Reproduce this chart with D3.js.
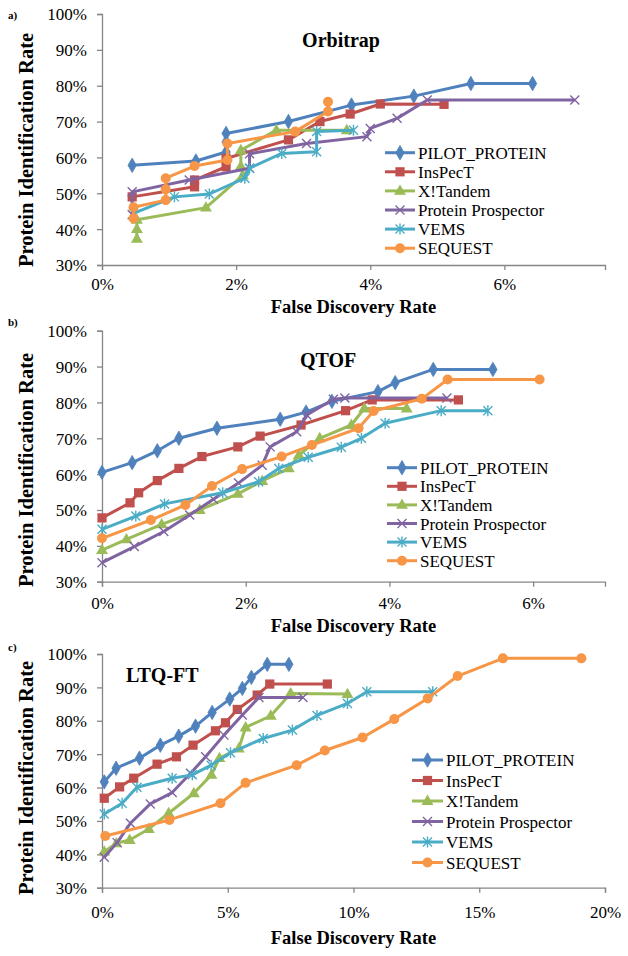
<!DOCTYPE html>
<html><head><meta charset="utf-8">
<script src="https://cdn.jsdelivr.net/npm/d3@7/dist/d3.min.js"></script>
<style>
body{margin:0;background:#fff}
svg{display:block}
svg text{font-family:"Liberation Serif","DejaVu Serif","Noto Serif","Times New Roman",Times,serif !important;}
</style>
</head><body>
<svg id="chart" width="628" height="956"></svg>
<script>
// ---------- categories / styling keys ----------
const seriesNames = ["PILOT_PROTEIN", "InsPecT", "X!Tandem", "Protein Prospector", "VEMS", "SEQUEST"];
const seriesColors = ["#4F81BD", "#C0504D", "#9BBB59", "#8064A2", "#4BACC6", "#F79646"];
const seriesMarkers = ["diamond", "square", "triangle", "x", "star", "circle"];

// ---------- tick labels ----------
const yTickValues = [30, 40, 50, 60, 70, 80, 90, 100];
const xTicksOrbitrap = [0, 2, 4, 6];
const xTicksQtof = [0, 2, 4, 6];
const xTicksLtq = [0, 5, 10, 15, 20];

// ---------- data: [FDR %, identification rate %] ----------
// a) Orbitrap
const orbitrapPilot = [[0.45,57.8],[1.4,59.0],[1.85,61.5],[1.85,64.3],[1.85,66.7],[2.78,70.0],[3.72,74.6],[4.65,77.1],[5.5,80.6],[6.42,80.6]];
const orbitrapInspect = [[0.45,49.0],[1.38,51.8],[1.38,53.7],[1.85,57.4],[1.85,59.7],[2.78,64.9],[3.25,70.0],[3.7,72.1],[4.15,74.9],[5.1,74.8]];
const orbitrapXtandem = [[0.52,37.3],[0.52,40.0],[0.52,42.6],[1.55,46.0],[2.1,55.0],[2.07,57.5],[2.07,62.0],[2.6,67.6],[3.65,67.6]];
const orbitrapProspector = [[0.45,44.0],[0.45,50.4],[1.3,53.7],[2.2,57.0],[2.2,61.0],[3.05,63.9],[3.95,65.8],[4.0,68.1],[4.4,70.9],[4.85,76.0],[7.05,76.0]];
const orbitrapVems = [[0.47,44.4],[1.08,49.0],[1.6,49.8],[2.13,54.2],[2.2,57.0],[2.68,61.1],[3.2,61.6],[3.2,67.2],[3.75,67.6]];
const orbitrapSequest = [[0.47,43.0],[0.47,46.1],[0.95,48.1],[0.95,51.1],[0.95,54.2],[1.38,57.6],[1.87,59.3],[1.87,63.9],[2.88,67.2],[3.37,72.8],[3.37,75.5]];

// b) QTOF
const qtofPilot = [[0,60.5],[0.42,63.2],[0.77,66.5],[1.07,70.0],[1.6,72.8],[2.48,75.3],[2.84,77.3],[3.2,80.3],[3.84,83.0],[4.08,85.5],[4.61,89.2],[5.44,89.2]];
const qtofInspect = [[0,47.8],[0.39,52.0],[0.51,54.8],[0.77,58.2],[1.07,61.6],[1.39,64.9],[1.89,67.6],[2.2,70.6],[2.77,73.7],[3.39,77.7],[3.76,80.7],[4.96,80.7]];
const qtofXtandem = [[0,38.8],[0.34,41.8],[0.83,46.0],[1.36,50.0],[1.89,54.5],[2.23,58.1],[2.6,61.6],[2.74,65.3],[3.03,70.0],[3.47,73.7],[3.65,78.3],[4.24,78.3]];
const qtofProspector = [[0,35.3],[0.45,39.8],[0.86,44.0],[1.22,48.6],[1.55,53.0],[1.9,57.5],[2.23,62.5],[2.34,67.6],[2.71,71.8],[2.85,76.5],[3.22,80.9],[3.38,81.2],[4.8,81.2]];
const qtofVems = [[0,44.6],[0.47,48.3],[0.87,51.7],[1.68,54.8],[2.18,57.9],[2.46,61.6],[2.87,64.7],[3.33,67.5],[3.61,70.0],[3.94,74.2],[4.72,77.7],[5.37,77.7]];
const qtofSequest = [[0,42.1],[0.68,47.2],[1.16,51.4],[1.53,56.7],[1.95,61.4],[2.5,64.9],[2.92,68.1],[3.57,72.8],[3.78,77.6],[4.45,81.0],[4.81,86.4],[6.09,86.4]];

// c) LTQ-FT
const ltqPilot = [[0.09,61.7],[0.56,65.8],[1.49,68.8],[2.32,72.7],[3.05,75.4],[3.72,78.4],[4.38,82.5],[5.08,86.5],[5.58,89.7],[5.94,93.0],[6.57,96.9],[7.43,96.9]];
const ltqInspect = [[0.09,56.8],[0.7,60.2],[1.26,62.8],[2.19,67.0],[2.96,69.2],[3.62,72.7],[4.51,77.0],[4.91,79.4],[5.38,83.4],[6.17,87.7],[6.67,91.0],[8.96,91.0]];
const ltqXtandem = [[0.09,40.8],[0.57,43.3],[1.1,44.3],[1.86,47.6],[2.65,52.3],[3.65,58.3],[4.35,63.8],[4.67,68.8],[5.44,71.7],[5.71,78.0],[6.71,81.5],[7.5,88.2],[9.76,88.0]];
const ltqProspector = [[0.09,39.1],[0.6,43.5],[1.13,49.3],[1.92,55.1],[2.79,58.5],[3.52,64.3],[4.12,69.2],[4.85,75.7],[5.58,81.7],[6.24,87.0],[7.99,87.0]];
const ltqVems = [[0.09,52.1],[0.8,55.3],[1.39,60.1],[2.79,62.8],[3.59,63.8],[4.34,66.7],[5.11,70.4],[6.41,74.7],[7.57,77.2],[8.55,81.6],[9.76,85.2],[10.53,88.7],[13.15,88.7]];
const ltqSequest = [[0.13,45.5],[2.68,50.3],[4.71,55.3],[5.71,61.4],[7.74,66.7],[8.86,71.1],[10.36,75.0],[11.62,80.5],[12.95,86.7],[14.14,93.4],[15.94,98.7],[19.06,98.7]];

// ---------- layout ----------
const panels = [
  { tag: "a)", tagY: 19, title: "Orbitrap", titleX: 341, titleY: 47, titleAnchor: "middle",
    series: [orbitrapPilot, orbitrapInspect, orbitrapXtandem, orbitrapProspector, orbitrapVems, orbitrapSequest],
    xMax: 7.5, xTicks: xTicksOrbitrap, top: 14, bottom: 265, labelY: 290, axisTitleY: 313, yTitleY: 150,
    legend: { x1: 385, x2: 415, tx: 418, y: 152.7, dy: 19.1 } },
  { tag: "b)", tagY: 326, title: "QTOF", titleX: 300, titleY: 367, titleAnchor: "start",
    series: [qtofPilot, qtofInspect, qtofXtandem, qtofProspector, qtofVems, qtofSequest],
    xMax: 7, xTicks: xTicksQtof, top: 330.7, bottom: 581.7, labelY: 609, axisTitleY: 632, yTitleY: 470,
    legend: { x1: 387, x2: 417, tx: 420, y: 467.7, dy: 18.6 } },
  { tag: "c)", tagY: 651, title: "LTQ-FT", titleX: 126, titleY: 682, titleAnchor: "start",
    series: [ltqPilot, ltqInspect, ltqXtandem, ltqProspector, ltqVems, ltqSequest],
    xMax: 20, xTicks: xTicksLtq, top: 654, bottom: 887.7, labelY: 918, axisTitleY: 944, yTitleY: 778,
    legend: { x1: 412, x2: 443, tx: 446, y: 760, dy: 20.5 } }
];

const LEFT = 102, RIGHT = 605;
const FONT = "'Liberation Serif','DejaVu Serif','Times New Roman',Times,serif";
const AXIS_COLOR = "#868686";

const svg = d3.select("#chart");
svg.append("rect").attr("width", 628).attr("height", 956).attr("fill", "#fff");

function drawMarker(g, type, color, x, y) {
  if (type === "diamond") {
    g.append("path").attr("d", d3.symbol(d3.symbolDiamond, 60)())
      .attr("transform", `translate(${x},${y})`).attr("fill", color).attr("stroke", color).attr("stroke-width", 0.8);
  } else if (type === "square") {
    g.append("path").attr("d", d3.symbol(d3.symbolSquare, 85)())
      .attr("transform", `translate(${x},${y})`).attr("fill", color);
  } else if (type === "triangle") {
    g.append("path").attr("d", d3.symbol(d3.symbolTriangle, 62)())
      .attr("transform", `translate(${x},${y + 0.5})`).attr("fill", color);
  } else if (type === "x") {
    g.append("path").attr("d", "M-4.5,-4.5L4.5,4.5M-4.5,4.5L4.5,-4.5")
      .attr("transform", `translate(${x},${y})`).attr("stroke", color).attr("stroke-width", 1.4).attr("fill", "none");
  } else if (type === "star") {
    g.append("path").attr("d", "M-4.5,-4.5L4.5,4.5M-4.5,4.5L4.5,-4.5M0,-5.5L0,5.5")
      .attr("transform", `translate(${x},${y})`).attr("stroke", color).attr("stroke-width", 1.4).attr("fill", "none");
  } else {
    g.append("circle").attr("cx", x).attr("cy", y).attr("r", 5).attr("fill", color);
  }
}

panels.forEach(p => {
  const x = d3.scaleLinear().domain([0, p.xMax]).range([LEFT, RIGHT]);
  const y = d3.scaleLinear().domain([30, 100]).range([p.bottom, p.top]);
  const g = svg.append("g").style("font-family", FONT);

  // axes
  const yAxis = d3.axisLeft(y).tickValues(yTickValues).tickSize(5).tickPadding(10).tickFormat(d => d + "%");
  const xAxis = d3.axisBottom(x).tickValues(p.xTicks).tickSize(5).tickPadding(0).tickFormat(d => d + "%");
  const ya = g.append("g").attr("transform", `translate(${LEFT},0)`).call(yAxis);
  const xa = g.append("g").attr("transform", `translate(0,${p.bottom})`).call(xAxis);
  [ya, xa].forEach(a => {
    a.attr("font-family", null).attr("font-size", null);
    a.select(".domain").attr("stroke", AXIS_COLOR).attr("stroke-width", 1.3);
    a.selectAll(".tick line").attr("stroke", AXIS_COLOR).attr("stroke-width", 1.3);
    a.selectAll(".tick text").style("font-family", FONT).style("font-size", "17px").attr("fill", "#000");
  });
  ya.selectAll(".tick text").attr("dy", "0.35em");
  xa.selectAll(".tick text").attr("dy", null).attr("y", p.labelY - p.bottom);

  // series lines + markers
  p.series.forEach((pts, i) => {
    const line = d3.line().x(d => x(d[0])).y(d => y(d[1]));
    g.append("path").datum(pts).attr("d", line).attr("fill", "none")
      .attr("stroke", seriesColors[i]).attr("stroke-width", 3).attr("stroke-linejoin", "round");
    pts.forEach(d => drawMarker(g, seriesMarkers[i], seriesColors[i], x(d[0]), y(d[1])));
  });

  // legend
  seriesNames.forEach((name, i) => {
    const ly = p.legend.y + i * p.legend.dy;
    g.append("line").attr("x1", p.legend.x1).attr("x2", p.legend.x2).attr("y1", ly).attr("y2", ly)
      .attr("stroke", seriesColors[i]).attr("stroke-width", 3);
    drawMarker(g, seriesMarkers[i], seriesColors[i], (p.legend.x1 + p.legend.x2) / 2, ly);
    g.append("text").attr("x", p.legend.tx).attr("y", ly + 6)
      .style("font-family", FONT).style("font-size", "17px").attr("fill", "#000").text(name);
  });

  // titles
  g.append("text").attr("x", p.titleX).attr("y", p.titleY).attr("text-anchor", p.titleAnchor)
    .style("font-family", FONT).style("font-weight", "bold").style("font-size", "20px").text(p.title);
  g.append("text").attr("x", (LEFT + RIGHT) / 2).attr("y", p.axisTitleY).attr("text-anchor", "middle")
    .style("font-family", FONT).style("font-weight", "bold").style("font-size", "18.5px").text("False Discovery Rate");
  g.append("text").attr("transform", `translate(33,${p.yTitleY}) rotate(-90)`).attr("text-anchor", "middle")
    .style("font-family", FONT).style("font-weight", "bold").style("font-size", "20.5px").text("Protein Identification Rate");
  g.append("text").attr("x", 8).attr("y", p.tagY)
    .style("font-family", FONT).style("font-weight", "bold").style("font-size", "11px").text(p.tag);
});
</script>
</body></html>
